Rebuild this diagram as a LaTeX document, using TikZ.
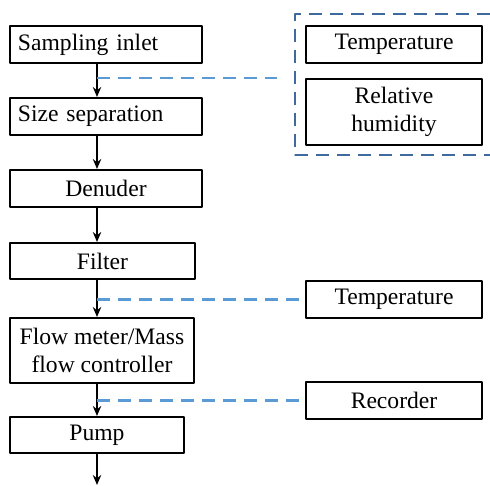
\documentclass[tikz,border=0pt]{standalone}
\usepackage{fontspec}
\setmainfont{Liberation Serif}
\usetikzlibrary{arrows.meta}
\definecolor{lineblue}{RGB}{91,155,213}
\definecolor{boxblue}{RGB}{62,106,158}
\begin{document}
\begin{tikzpicture}[x=0.5pt,y=-0.5pt,>={Stealth[length=5pt,width=4.2pt]},
	line join=round,font=\fontsize{11.8}{14}\selectfont,
	box/.style={draw,line width=1pt,inner sep=0pt,align=center,minimum height=18.5pt},
	leftbox/.style={box,inner xsep=4pt,text width=88pt,align=left},
	flow/.style={->,line width=0.8pt},
	link/.style={lineblue,line width=1.4pt,dash pattern=on 6.5pt off 4pt}]
	\useasboundingbox (0,0) rectangle (490,485);
	%Day chinh
	\node[leftbox] (inlet) at (106,44.5) {Sampling inlet};
	\node[leftbox] (size) at (106,116.5) {Size separation};
	\node[box,minimum width=96pt] (denuder) at (106,188.5) {Denuder};
	\node[box,minimum width=92.5pt,minimum height=18pt] (filter) at (102.5,261) {Filter};
	\node[box,minimum width=92pt,minimum height=32.5pt] (flowmeter) at (102,350.5) {Flow meter/Mass\\flow controller};
	\node[box,minimum width=87pt,minimum height=18pt] (pump) at (97,435) {Pump};
	\coordinate (spine) at (97,0);
	\coordinate (out) at (97,485);
	%Mui ten
	\draw[flow] (inlet.south -| spine)--(size.north -| spine);
	\draw[flow] (size.south -| spine)--(denuder.north -| spine);
	\draw[flow] (denuder.south -| spine)--(filter.north -| spine);
	\draw[flow] (filter.south -| spine)--(flowmeter.north -| spine);
	\draw[flow] (flowmeter.south -| spine)--(pump.north -| spine);
	\draw[flow] (pump.south -| spine)--(out);
	%Cam bien
	\node[box,minimum width=88pt] (temp) at (394,44.5) {Temperature};
	\node[box,minimum width=88pt,minimum height=33pt] (humidity) at (394,112) {Relative\\humidity};
	\node[box,minimum width=88pt] (temptwo) at (394,299.5) {Temperature};
	\node[box,minimum width=88pt] (recorder) at (394,400.5) {Recorder};
	\draw[boxblue,line width=1.4pt,dash pattern=on 6.5pt off 4pt] (490,14)--(295,14)--(295,155)--(490,155);
	%Duong noi
	\coordinate (tap) at (97,78);
	\coordinate (sensorend) at (277,78);
	\draw[link] (tap)--(sensorend);
	\draw[link] (temptwo.west -| spine)--(temptwo.west);
	\draw[link] (recorder.west -| spine)--(recorder.west);
\end{tikzpicture}
\end{document}
